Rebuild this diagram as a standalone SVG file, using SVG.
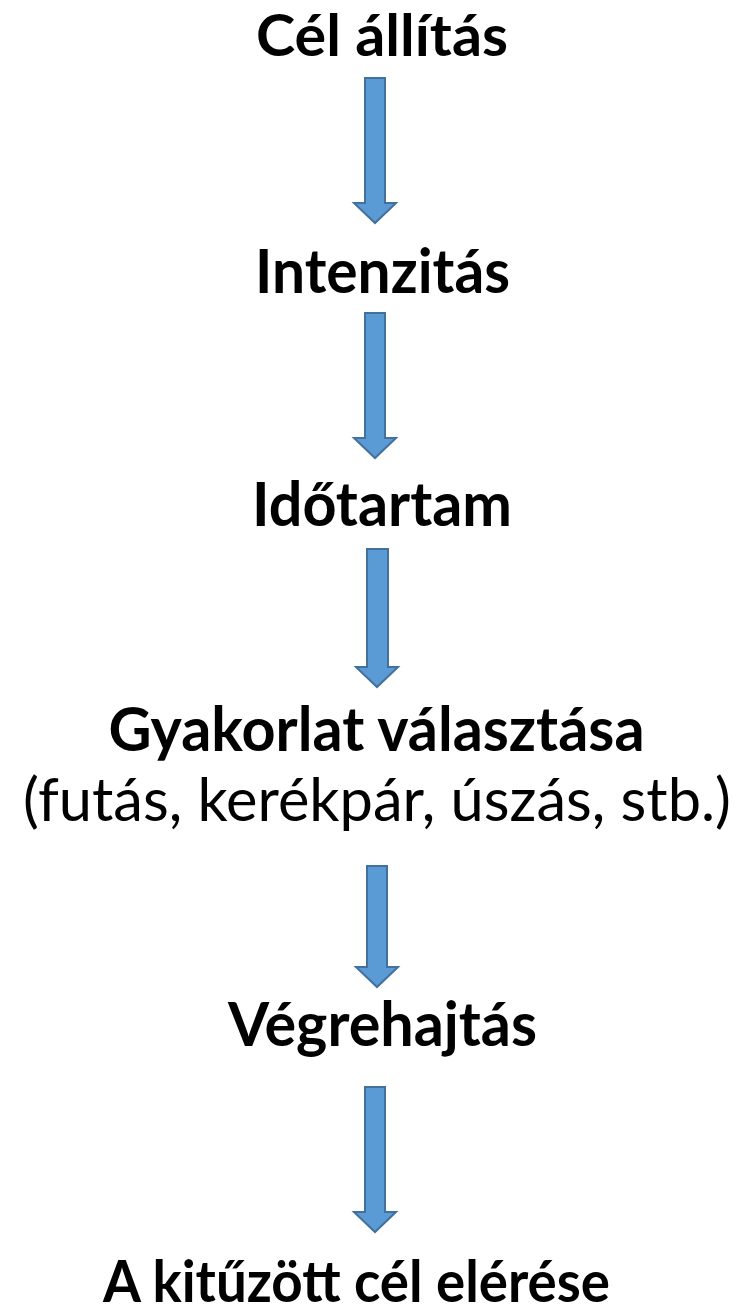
<svg xmlns="http://www.w3.org/2000/svg" width="740" height="1315" viewBox="0 0 740 1315">
<style>
.t{font-family:Lato,"Liberation Sans",sans-serif;font-weight:bold;font-size:61px;fill:#000;text-anchor:middle}
.e{font-size:58px}
.r{font-family:Lato,"Liberation Sans",sans-serif;font-weight:normal;font-size:60px;fill:#000;text-anchor:middle}
.a{fill:#5B9BD5;stroke:#41719C;stroke-width:2;stroke-linejoin:miter}
</style>
<rect width="740" height="1315" fill="#fff"/>
<g id="connectors">
<path class="a" d="M365,78 H385 V203 H396 L375,223 L354,203 H365 Z"/>
<path class="a" d="M365,313 H385 V438 H396 L375,458 L354,438 H365 Z"/>
<path class="a" d="M367,549 H388 V667 H398 L377,687 L356,667 H367 Z"/>
<path class="a" d="M367,866 H387 V967 H398 L377,987 L356,967 H367 Z"/>
<path class="a" d="M365,1087 H385 V1212 H396 L375,1232 L354,1212 H365 Z"/>
</g>
<g id="n1"><text class="t e" x="382" y="56" textLength="252" lengthAdjust="spacingAndGlyphs">Cél állítás</text></g>
<g id="n2"><text class="t" x="382.5" y="293" textLength="255" lengthAdjust="spacingAndGlyphs">Intenzitás</text></g>
<g id="n3"><text class="t" x="382" y="526" textLength="260" lengthAdjust="spacingAndGlyphs">Időtartam</text></g>
<g id="n4">
<text class="t" x="376.5" y="751" textLength="536" lengthAdjust="spacingAndGlyphs">Gyakorlat választása</text>
<text class="r" x="377" y="821" textLength="708" lengthAdjust="spacingAndGlyphs">(futás, kerékpár, úszás, stb.)</text>
</g>
<g id="n5"><text class="t" x="382.5" y="1046" textLength="309" lengthAdjust="spacingAndGlyphs">Végrehajtás</text></g>
<g id="n6"><text class="t e" x="356.5" y="1302" textLength="507" lengthAdjust="spacingAndGlyphs">A kitűzött cél elérése</text></g>
</svg>
